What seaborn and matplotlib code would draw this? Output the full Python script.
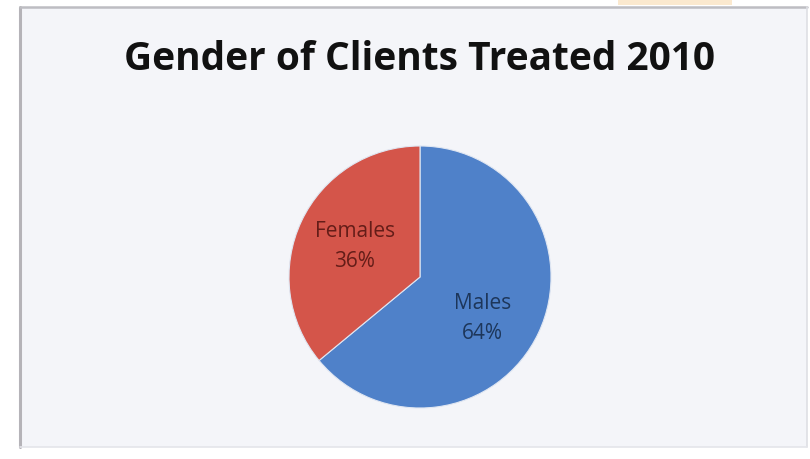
import matplotlib
matplotlib.use("Agg")
import matplotlib.pyplot as plt
import seaborn as sns
from matplotlib.patches import Rectangle
from matplotlib.lines import Line2D

#データ
categories = ["Males", "Females"]
shares = [64, 36]
title = "Gender of Clients Treated 2010"

sns.set_theme(style="white")
plt.rcParams['font.family'] = ['Open Sans', 'DejaVu Sans']

colors = ["#4f81c9", "#d4554a"]
label_colors = ["#1d365a", "#641d18"]

W, H = 810, 459
fig = plt.figure(figsize=(W / 100, H / 100), dpi=100)
fig.patch.set_facecolor("white")

#チャートエリア
x0f, x1f = 20 / W, 807 / W
y0f, y1f = 1 - 447 / H, 1 - 7 / H
fig.patches.append(Rectangle((x0f, y0f), x1f - x0f, y1f - y0f,
                             transform=fig.transFigure, facecolor="#f4f5f9",
                             edgecolor="none", zorder=-2))
fig.patches.append(Rectangle((618 / W, 1 - 5 / H), 114 / W, 5 / H,
                             transform=fig.transFigure, facecolor="#fbe9cf",
                             edgecolor="none", zorder=-2))
for xs, ys, c, lw in [([x0f, x0f], [y0f, y1f], "#b5b3b8", 2.2),
                      ([x0f, x1f], [y1f, y1f], "#bdbdc2", 1.8),
                      ([x1f, x1f], [y0f, y1f], "#dedfe4", 1.2),
                      ([x0f, x1f], [y0f, y0f], "#e4e5ea", 1.2)]:
    fig.lines.append(Line2D(xs, ys, transform=fig.transFigure, color=c,
                            linewidth=lw, zorder=-1))

fig.text(419 / W, 1 - 59 / H, title, ha="center", va="center",
         fontsize=28, fontweight="bold", color="#111111")

#円グラフ
cx, cy, r = 420, 277, 131
ax = fig.add_axes([(cx - r) / W, (H - cy - r) / H, 2 * r / W, 2 * r / H])
ax.set_facecolor("none")
labels = [f"{c}\n{v}%" for c, v in zip(categories, shares)]
wedges, texts = ax.pie(shares, labels=labels, colors=colors, startangle=90,
                       counterclock=False, labeldistance=0.55,
                       wedgeprops=dict(edgecolor="#dfe6f2", linewidth=0.8),
                       textprops=dict(ha="center", va="center", fontsize=15,
                                      linespacing=1.55))
for t, c in zip(texts, label_colors):
    t.set_color(c)
# Malesのラベルを少し下へ
px, py = texts[0].get_position()
texts[0].set_position((px - 0.02, py - 0.08))
ax.set_xlim(-1, 1)
ax.set_ylim(-1, 1)
ax.axis("off")

fig.savefig("out.png", dpi=100)
